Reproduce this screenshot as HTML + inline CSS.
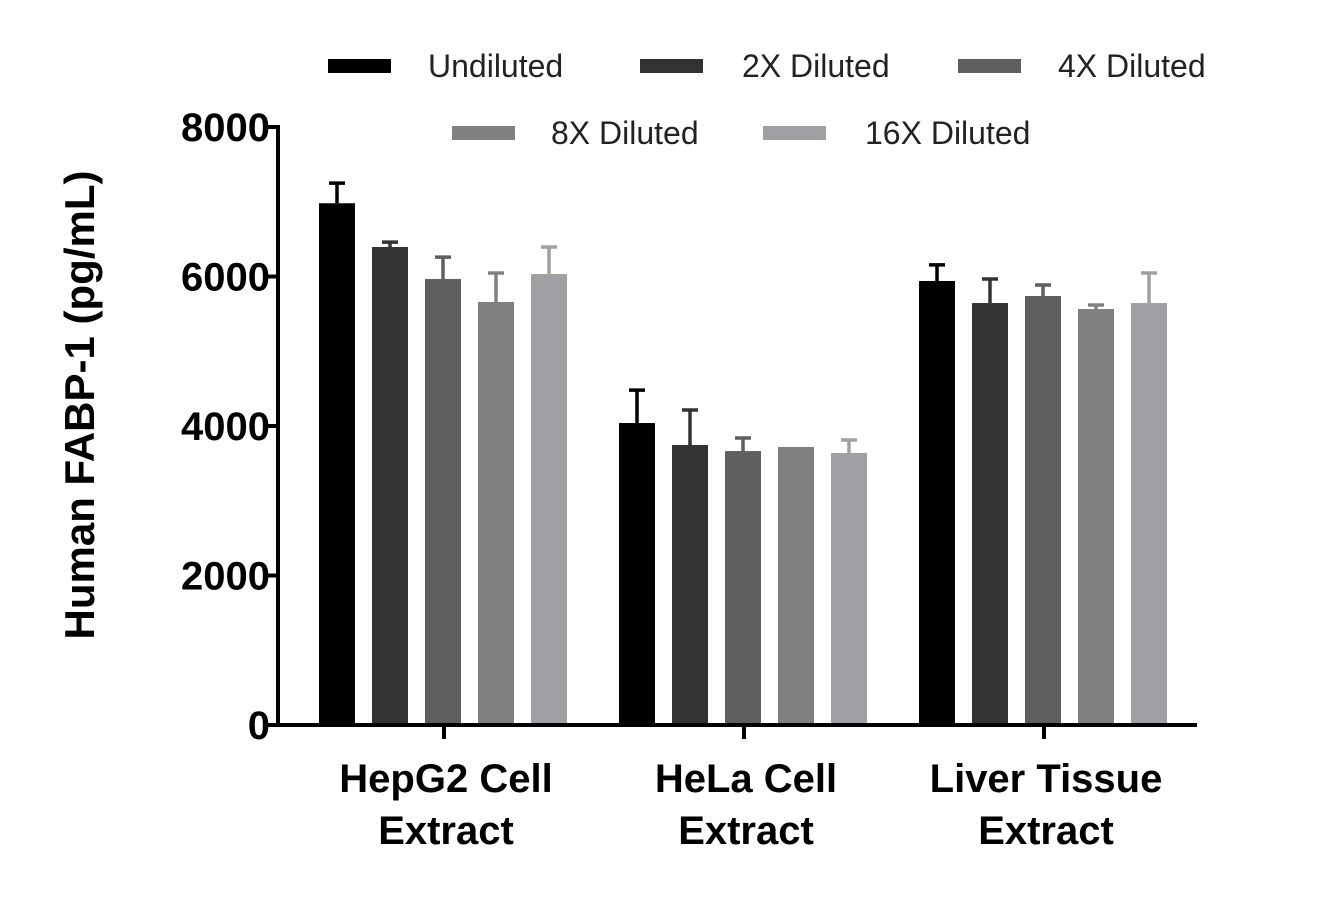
<!DOCTYPE html>
<html><head><meta charset="utf-8"><style>
html,body{margin:0;padding:0;background:#fff;}
svg{display:block;font-family:"Liberation Sans",sans-serif;}
</style></head><body>
<svg id="chart" width="1334" height="899" viewBox="0 0 1334 899" xmlns="http://www.w3.org/2000/svg">
<g id="bars"></g>
<g id="axes"></g>
<g id="legend"></g>
</svg>
<script>
const categories = [["HepG2 Cell","Extract"],["HeLa Cell","Extract"],["Liver Tissue","Extract"]];
const seriesNames = ["Undiluted","2X Diluted","4X Diluted","8X Diluted","16X Diluted"];
const undiluted = [6980, 4040, 5940];
const diluted2x = [6395, 3746, 5645];
const diluted4x = [5967, 3665, 5739];
const diluted8x = [5659, 3719, 5565];
const diluted16x = [6033, 3639, 5645];
const err_undiluted = [270, 440, 215];
const err_2x = [65, 468, 322];
const err_4x = [293, 175, 147];
const err_8x = [388, 0, 54];
const err_16x = [361, 174, 402];
const yTicks = [0, 2000, 4000, 6000, 8000];

const values = [undiluted, diluted2x, diluted4x, diluted8x, diluted16x];
const errs = [err_undiluted, err_2x, err_4x, err_8x, err_16x];
const colors = ["#000000","#333333","#5f5f5f","#808080","#a0a0a4"];
const NS = "http://www.w3.org/2000/svg";
const y0 = 725, yTop = 127, yMax = 8000;
const yScale = v => y0 - (v / yMax) * (y0 - yTop);
const groupCenters = [444, 744, 1044];
const barStep = 53, barW = 36;
const xBar = (g, s) => groupCenters[g] + (s - 2) * barStep - 1;

function mk(tag, attrs, parent){
  const e = document.createElementNS(NS, tag);
  for (const k in attrs) e.setAttribute(k, attrs[k]);
  parent.appendChild(e);
  return e;
}
const barsG = document.getElementById('bars');
const axesG = document.getElementById('axes');
const legG = document.getElementById('legend');

for (let s = 0; s < values.length; s++) {
  for (let g = 0; g < categories.length; g++) {
    const cx = xBar(g, s), top = yScale(values[s][g]);
    const r = mk('rect', {x: cx - barW/2, y: top, width: barW, height: y0 - top, fill: colors[s]}, barsG);
    
    
    if (errs[s][g] > 0) {
      const et = yScale(values[s][g] + errs[s][g]);
      const l = mk('path', {d: `M${cx} ${top} V${et} M${cx-8} ${et} H${cx+8}`, stroke: colors[s], 'stroke-width': 3.5, fill: 'none'}, barsG);
      
      
    }
  }
}

// axes
const ya = mk('line', {x1: 278, y1: yTop - 2, x2: 278, y2: y0 + 2, stroke: '#000', 'stroke-width': 4}, axesG);


const xa = mk('line', {x1: 276, y1: y0, x2: 1197, y2: y0, stroke: '#000', 'stroke-width': 4}, axesG);


for (const t of yTicks) {
  const y = yScale(t);
  const tk = mk('line', {x1: 264, y1: y, x2: 278, y2: y, stroke: '#000', 'stroke-width': 4}, axesG);
  
  
  const tx = mk('text', {x: 270, y: y + 14, 'text-anchor': 'end', 'font-size': 40, 'font-weight': 'bold'}, axesG);
  tx.textContent = t;
  
  
}
categories.forEach((c, g) => {
  const tk = mk('line', {x1: groupCenters[g], y1: y0, x2: groupCenters[g], y2: y0 + 14, stroke: '#000', 'stroke-width': 4}, axesG);
  
  
  c.forEach((line, i) => {
    const tx = mk('text', {x: groupCenters[g] + 2, y: 792 + i * 52, 'text-anchor': 'middle', 'font-size': 40, 'font-weight': 'bold'}, axesG);
    tx.textContent = line;
    
    
  });
});
const yt = mk('text', {x: 0, y: 0, transform: 'translate(94,405) rotate(-90)', 'text-anchor': 'middle', 'font-size': 42, 'font-weight': 'bold'}, axesG);
yt.textContent = 'Human FABP-1 (pg/mL)';



// legend
const legPos = [[328,66,428],[640,66,742],[958,66,1058],[452,133,551],[763,133,865]];
seriesNames.forEach((n, s) => {
  const [sx, sy, tx0] = legPos[s];
  const g = mk('g', {}, legG);
  
  
  mk('rect', {x: sx, y: sy - 7, width: 63, height: 14, fill: colors[s]}, g);
  const t = mk('text', {x: tx0, y: sy + 11, 'font-size': 32, fill: '#222'}, g);
  t.textContent = n;
});
</script>
</body></html>
